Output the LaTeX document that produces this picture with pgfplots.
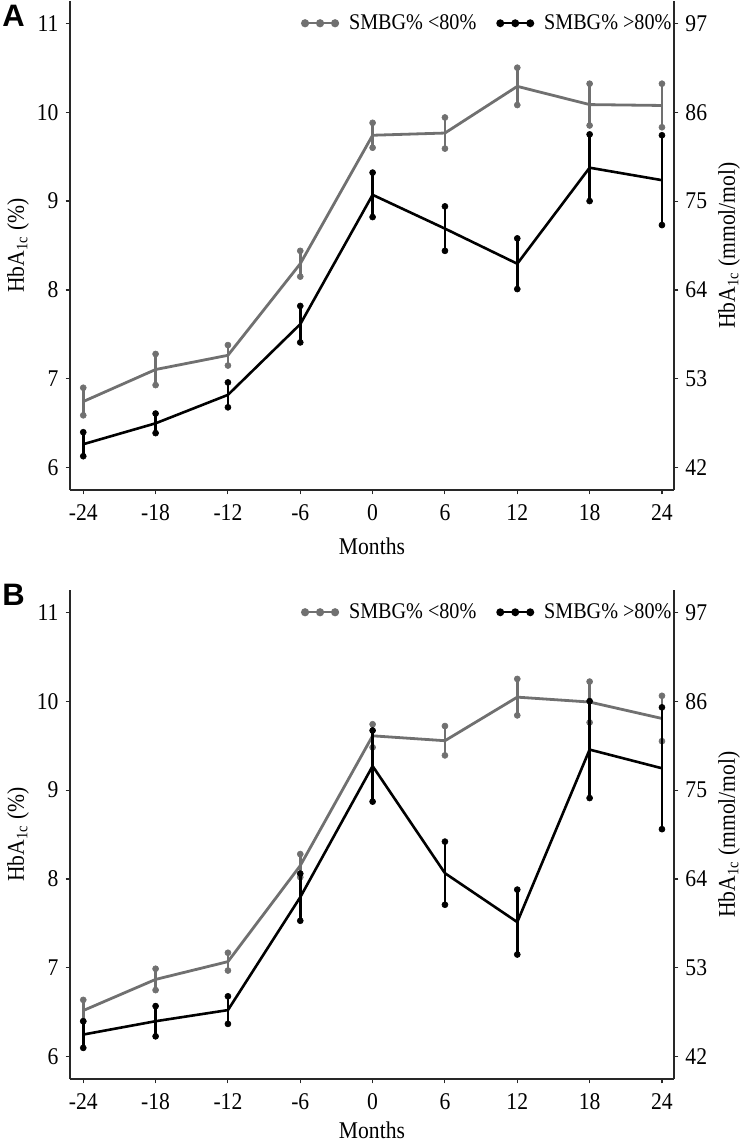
\documentclass[border=0pt]{standalone}
\usepackage{fontspec}
\setmainfont{Liberation Serif}[FakeStretch=0.9]
\newfontfamily\panelfont{Liberation Sans}
\usepackage{pgfplots}
\usepackage{pgfplotstable}
\pgfplotsset{compat=1.18}
\definecolor{grayline}{RGB}{112,112,112}
\definecolor{axcol}{RGB}{40,40,40}

% Panel A
\pgfplotstableread{
x y e
-24 6.745 0.155
-18 7.105 0.175
-12 7.265 0.115
-6 8.295 0.145
0 9.74 0.14
6 9.765 0.175
12 10.29 0.21
18 10.085 0.235
24 10.075 0.245
}\Alow
\pgfplotstableread{
x y e
-24 6.265 0.135
-18 6.50 0.11
-12 6.82 0.14
-6 7.615 0.205
0 9.07 0.25
6 8.69 0.25
12 8.295 0.285
18 9.375 0.375
24 9.235 0.505
}\Ahigh
% Panel B
\pgfplotstableread{
x y e
-24 6.52 0.12
-18 6.87 0.12
-12 7.07 0.10
-6 8.15 0.13
0 9.61 0.13
6 9.555 0.165
12 10.045 0.205
18 9.99 0.23
24 9.805 0.255
}\Blow
\pgfplotstableread{
x y e
-24 6.25 0.15
-18 6.40 0.17
-12 6.525 0.155
-6 7.795 0.265
0 9.27 0.40
6 8.065 0.355
12 7.515 0.365
18 9.455 0.545
24 9.245 0.685
}\Bhigh

\newcommand\txtfont{\fontsize{12}{14}\selectfont}
\newcommand\legfont{\fontsize{11.2}{13}\selectfont}

\pgfplotsset{
 common/.style={
  width=302pt, height=244.5pt, scale only axis,
  xmin=-25.1, xmax=25.0,
  axis line style={-, line width=0.55pt, draw=axcol},
  tick align=outside, major tick length=2.2pt,
  tick style={line width=0.55pt, draw=axcol},
  tick label style={font=\txtfont},
  label style={font=\txtfont},
 },
 panel/.style={
  common,
  ymin=5.75, ymax=11.25,
  axis x line*=bottom, axis y line*=left,
  xtick={-24,-18,-12,-6,0,6,12,18,24},
  xticklabels={-24,-18,-12,-6,0,6,12,18,24},
  xticklabel style={yshift=-1.5pt},
  ytick={6,7,8,9,10,11}, yticklabels={6,7,8,9,10,11},
  xlabel={Months},
  ylabel={HbA\textsubscript{1c} (\%)},
  every axis y label/.style={at={(axis description cs:-0.086,0.5)}, rotate=90, anchor=center, font=\txtfont},
  legend columns=2,
  legend style={at={(rel axis cs:1.013,0.9545)}, anchor=east, draw=none, fill=none,
    inner sep=0pt, font=\legfont,
    nodes={inner xsep=5pt},
    /tikz/every even column/.append style={column sep=5pt}},
  legend image code/.code={
    \draw[##1, line width=1.2pt] (0pt,0pt) -- (15pt,0pt);
    \fill[##1] (0pt,0pt) circle (1.3pt) (7.5pt,0pt) circle (1.3pt) (15pt,0pt) circle (1.3pt);
  },
 },
 secax/.style={
  common,
  ymin=39.25, ymax=99.75,
  axis x line=none, axis y line*=right,
  ytick={42,53,64,75,86,97}, yticklabels={42,53,64,75,86,97},
  ylabel={HbA\textsubscript{1c} (mmol/mol)},
  every axis y label/.style={at={(axis description cs:1.091,0.5)}, rotate=90, anchor=center, font=\txtfont},
 },
 lowplot/.style={grayline, line width=1.4pt, mark=none,
   error bars/.cd, y dir=both, y explicit,
   error bar style={line width=1.4pt, grayline},
   error mark=*, error mark options={mark size=1.5pt, grayline, fill=grayline, line width=0.3pt}},
 highplot/.style={black, line width=1.3pt, mark=none,
   error bars/.cd, y dir=both, y explicit,
   error bar style={line width=1.4pt, black},
   error mark=*, error mark options={mark size=1.5pt, black, fill=black, line width=0.3pt}},
}

\begin{document}
\begin{tikzpicture}
\useasboundingbox (0,0) rectangle (372pt,-571pt);

% ---------- Panel A ----------
\begin{axis}[panel, at={(35pt,-0.5pt)}, anchor=north west,
  xlabel style={at={(axis description cs:0.5,-0.115)}, anchor=center}]
\addplot[lowplot] table[x=x, y=y, y error=e] {\Alow};
\addlegendentry{SMBG\% <80\%}
\addplot[highplot] table[x=x, y=y, y error=e] {\Ahigh};
\addlegendentry{SMBG\% >80\%}
\end{axis}
\begin{axis}[secax, at={(35pt,-0.5pt)}, anchor=north west]
\end{axis}
\node[font=\panelfont\bfseries\fontsize{15.5}{16}\selectfont, anchor=base west, inner sep=0pt] at (1pt,-13pt) {A};

% ---------- Panel B ----------
\begin{axis}[panel, at={(35pt,-295pt)}, anchor=north west,
  xlabel style={at={(axis description cs:0.5,-0.104)}, anchor=center}]
\addplot[lowplot] table[x=x, y=y, y error=e] {\Blow};
\addlegendentry{SMBG\% <80\%}
\addplot[highplot] table[x=x, y=y, y error=e] {\Bhigh};
\addlegendentry{SMBG\% >80\%}
\end{axis}
\begin{axis}[secax, at={(35pt,-295pt)}, anchor=north west]
\end{axis}
\node[font=\panelfont\bfseries\fontsize{15.5}{16}\selectfont, anchor=base west, inner sep=0pt] at (1pt,-302.5pt) {B};
\end{tikzpicture}
\end{document}
